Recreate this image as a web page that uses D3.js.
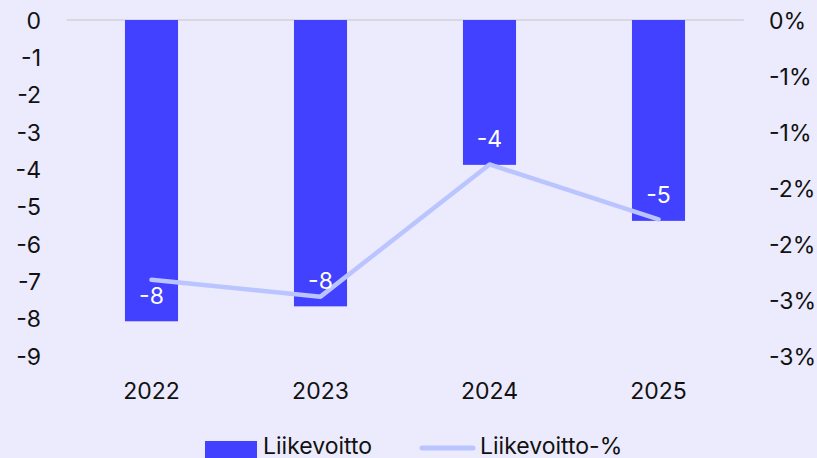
<!DOCTYPE html>
<html>
<head>
<meta charset="utf-8">
<script src="https://cdn.jsdelivr.net/npm/d3@7"></script>
<style>
  html, body { margin: 0; padding: 0; background: #ECEBFD; }
  text { font-family: Inter, "Liberation Sans", sans-serif; }
</style>
</head>
<body>
<div id="chart"></div>
<script>
const years = ['2022', '2023', '2024', '2025'];
const profit = [-8.07, -7.67, -3.88, -5.38];          // Liikevoitto
const profitPct = [-2.32, -2.47, -1.29, -1.78];      // Liikevoitto-%
const leftTicks = [0, -1, -2, -3, -4, -5, -6, -7, -8, -9];
const rightTicks = [0, -0.5, -1, -1.5, -2, -2.5, -3];

const width = 817;
const height = 458;
const fontSize = 23;

const svg = d3.select('#chart').append('svg')
  .attr('width', width)
  .attr('height', height);

svg.append('rect')
  .attr('width', width)
  .attr('height', height)
  .attr('fill', '#ECEBFD');

// scales
const x = d3.scaleBand()
  .domain(years)
  .range([67, 743])
  .paddingInner(0.686)
  .paddingOuter(0.343);

const y = d3.scaleLinear().domain([-9, 0]).range([356, 20]);
const y2 = d3.scaleLinear().domain([-3, 0]).range([356, 20]);

// zero gridline
svg.append('line')
  .attr('x1', 67).attr('x2', 744)
  .attr('y1', y(0)).attr('y2', y(0))
  .attr('stroke', '#D8D8E0')
  .attr('stroke-width', 2);

// left axis labels
svg.append('g').selectAll('text')
  .data(leftTicks)
  .join('text')
  .attr('x', 41)
  .attr('y', d => y(d) + 8.5)
  .attr('text-anchor', 'end')
  .attr('font-size', fontSize)
  .attr('fill', '#111')
  .text(d => d);

// right axis labels (rounded to whole percent like the source)
svg.append('g').selectAll('text')
  .data(rightTicks)
  .join('text')
  .attr('x', 769)
  .attr('y', d => y2(d) + 8.5)
  .attr('text-anchor', 'start')
  .attr('font-size', fontSize)
  .attr('fill', '#111')
  .text(d => d === 0 ? '0%' : '-' + Math.round(Math.abs(d) + 0.001) + '%');

// x labels
svg.append('g').selectAll('text')
  .data(years)
  .join('text')
  .attr('x', d => x(d) + x.bandwidth() / 2)
  .attr('y', 399)
  .attr('text-anchor', 'middle')
  .attr('font-size', fontSize)
  .attr('fill', '#111')
  .text(d => d);

// bars
svg.append('g').selectAll('rect')
  .data(profit)
  .join('rect')
  .attr('x', (d, i) => x(years[i]))
  .attr('y', y(0))
  .attr('width', x.bandwidth())
  .attr('height', d => y(d) - y(0))
  .attr('fill', '#4141FF');

// line
const line = d3.line()
  .x((d, i) => x(years[i]) + x.bandwidth() / 2)
  .y(d => y2(d));

svg.append('path')
  .datum(profitPct)
  .attr('d', line)
  .attr('fill', 'none')
  .attr('stroke', '#BAC4FF')
  .attr('stroke-width', 4.5)
  .attr('stroke-linecap', 'round')
  .attr('stroke-linejoin', 'round');

// bar value labels
svg.append('g').selectAll('text')
  .data(profit)
  .join('text')
  .attr('x', (d, i) => x(years[i]) + x.bandwidth() / 2)
  .attr('y', d => y(d) - 17.5)
  .attr('text-anchor', 'middle')
  .attr('font-size', fontSize)
  .attr('fill', '#fff')
  .text(d => Math.round(d));

// legend
const legend = svg.append('g');
legend.append('rect')
  .attr('x', 205).attr('y', 441)
  .attr('width', 52).attr('height', 17)
  .attr('fill', '#4141FF');
legend.append('text')
  .attr('x', 263).attr('y', 454)
  .attr('font-size', fontSize)
  .attr('fill', '#111')
  .text('Liikevoitto');
legend.append('line')
  .attr('x1', 422).attr('x2', 473)
  .attr('y1', 448).attr('y2', 448)
  .attr('stroke', '#BAC4FF')
  .attr('stroke-width', 5)
  .attr('stroke-linecap', 'round');
legend.append('text')
  .attr('x', 480).attr('y', 454)
  .attr('font-size', fontSize)
  .attr('fill', '#111')
  .text('Liikevoitto-%');
</script>
</body>
</html>
